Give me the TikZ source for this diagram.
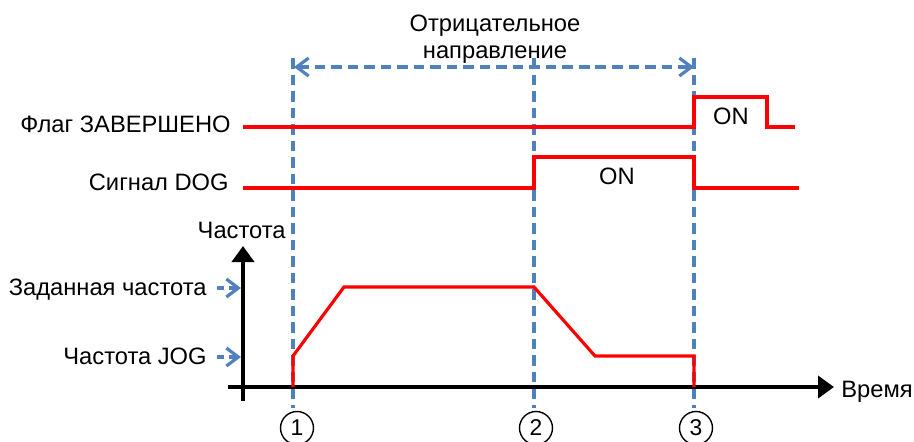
\documentclass[tikz,border=0pt]{standalone}
\usepackage{fontspec}
\setmainfont{Liberation Sans}
\usetikzlibrary{calc, positioning}
\usetikzlibrary{arrows.meta}
\definecolor{markblue}{HTML}{4F81BD}
\definecolor{sigred}{HTML}{FF0000}

\begin{document}
\begin{tikzpicture}[x=0.02cm, y=-0.02cm,
  sig/.style={line width=1.8pt, sigred, line join=miter},
  marker/.style={line width=1.8pt, markblue, dash pattern=on 6pt off 3.4pt},
  axisline/.style={line width=2.6pt, -{Triangle[length=3.2mm, width=4.4mm]}},
  txt/.style={font=\fontsize{13.5}{15}\selectfont, inner sep=0pt},
  stepnum/.style={circle, draw, line width=0.8pt, minimum size=0.66cm, inner sep=0pt, font=\fontsize{13}{13}\selectfont},
  barb/.style={-{Straight Barb[length=2.4mm, width=3.6mm, line width=1.8pt]}}
]
\useasboundingbox (0,0) rectangle (914,441);
\def\tA{293}
\def\tB{534}
\def\tC{694}
\def\fSet{287}
\def\fJog{356}

% time markers
\coordinate (MOneTop) at (\tA,58);
\coordinate (MTwoTop) at (\tB,58);
\coordinate (MThreeTop) at (\tC,58);
\coordinate (MOneBot) at (\tA,408);
\coordinate (MTwoBot) at (\tB,408);
\coordinate (MThreeBot) at (\tC,408);
\node[stepnum] (NOne) at (\tA+4,428) {1};
\node[stepnum] (NTwo) at (\tB+2,428) {2};
\node[stepnum] (NThree) at (\tC+2,428) {3};

\draw[marker] (MOneTop) -- (MOneBot);
\draw[marker] (MTwoTop) -- (MTwoBot);
\draw[marker] (MThreeTop) -- (MThreeBot);

% direction arrow
\coordinate (DirL) at (\tA+1,67);
\coordinate (DirR) at (\tC,67);
\draw[marker, {Straight Barb[length=2.4mm, width=3.6mm, line width=1.8pt]}-{Straight Barb[length=2.4mm, width=3.6mm, line width=1.8pt]}] (DirL) -- (DirR);
\node[txt, align=center, anchor=base] (DirLabel) at (495,58) {Отрицательное\\направление};

% signals
\node[txt, anchor=base east] (FlagLabel) at (231,132) {Флаг ЗАВЕРШЕНО};
\node[txt, anchor=base east] (DogLabel) at (229,190) {Сигнал DOG};
\draw[sig] (243,127) -- (\tC,127) -- (\tC,97) -- (767,97) -- (767,127) -- (795,127);
\draw[sig] (243,188) -- (\tB,188) -- (\tB,157) -- (\tC,157) -- (\tC,188) -- (799,188);
\node[txt, anchor=base] (FlagOn) at (731,124) {ON};
\node[txt, anchor=base] (DogOn) at (617,184) {ON};

% axes
\coordinate (O) at (243,387);
\coordinate (YTop) at (243,246);
\coordinate (XEnd) at (834,387);
\draw[axisline] (243,401) -- (YTop);
\draw[axisline] (228,387) -- (XEnd);
\node[txt, anchor=base east] (FreqLabel) at (286,238) {Частота};
\node[txt, anchor=base west] (TimeLabel) at (841,397) {Время};

% frequency levels
\node[txt, anchor=base east] (SetLabel) at (207,295) {Заданная частота};
\node[txt, anchor=base east] (JogLabel) at (207,364) {Частота JOG};
\coordinate (SetTick) at (241,\fSet+1);
\coordinate (JogTick) at (241,\fJog+1);
\draw[marker, dash pattern=on 4pt off 3pt, barb] (SetLabel.east |- SetTick) ++(10,0) -- (SetTick);
\draw[marker, dash pattern=on 4pt off 3pt, barb] (JogLabel.east |- JogTick) ++(10,0) -- (JogTick);

% speed profile
\draw[sig] (\tA,387) -- (\tA,\fJog) -- (344,\fSet) -- (\tB,\fSet) -- (595,\fJog) -- (\tC,\fJog) -- (\tC,387);
\end{tikzpicture}
\end{document}
